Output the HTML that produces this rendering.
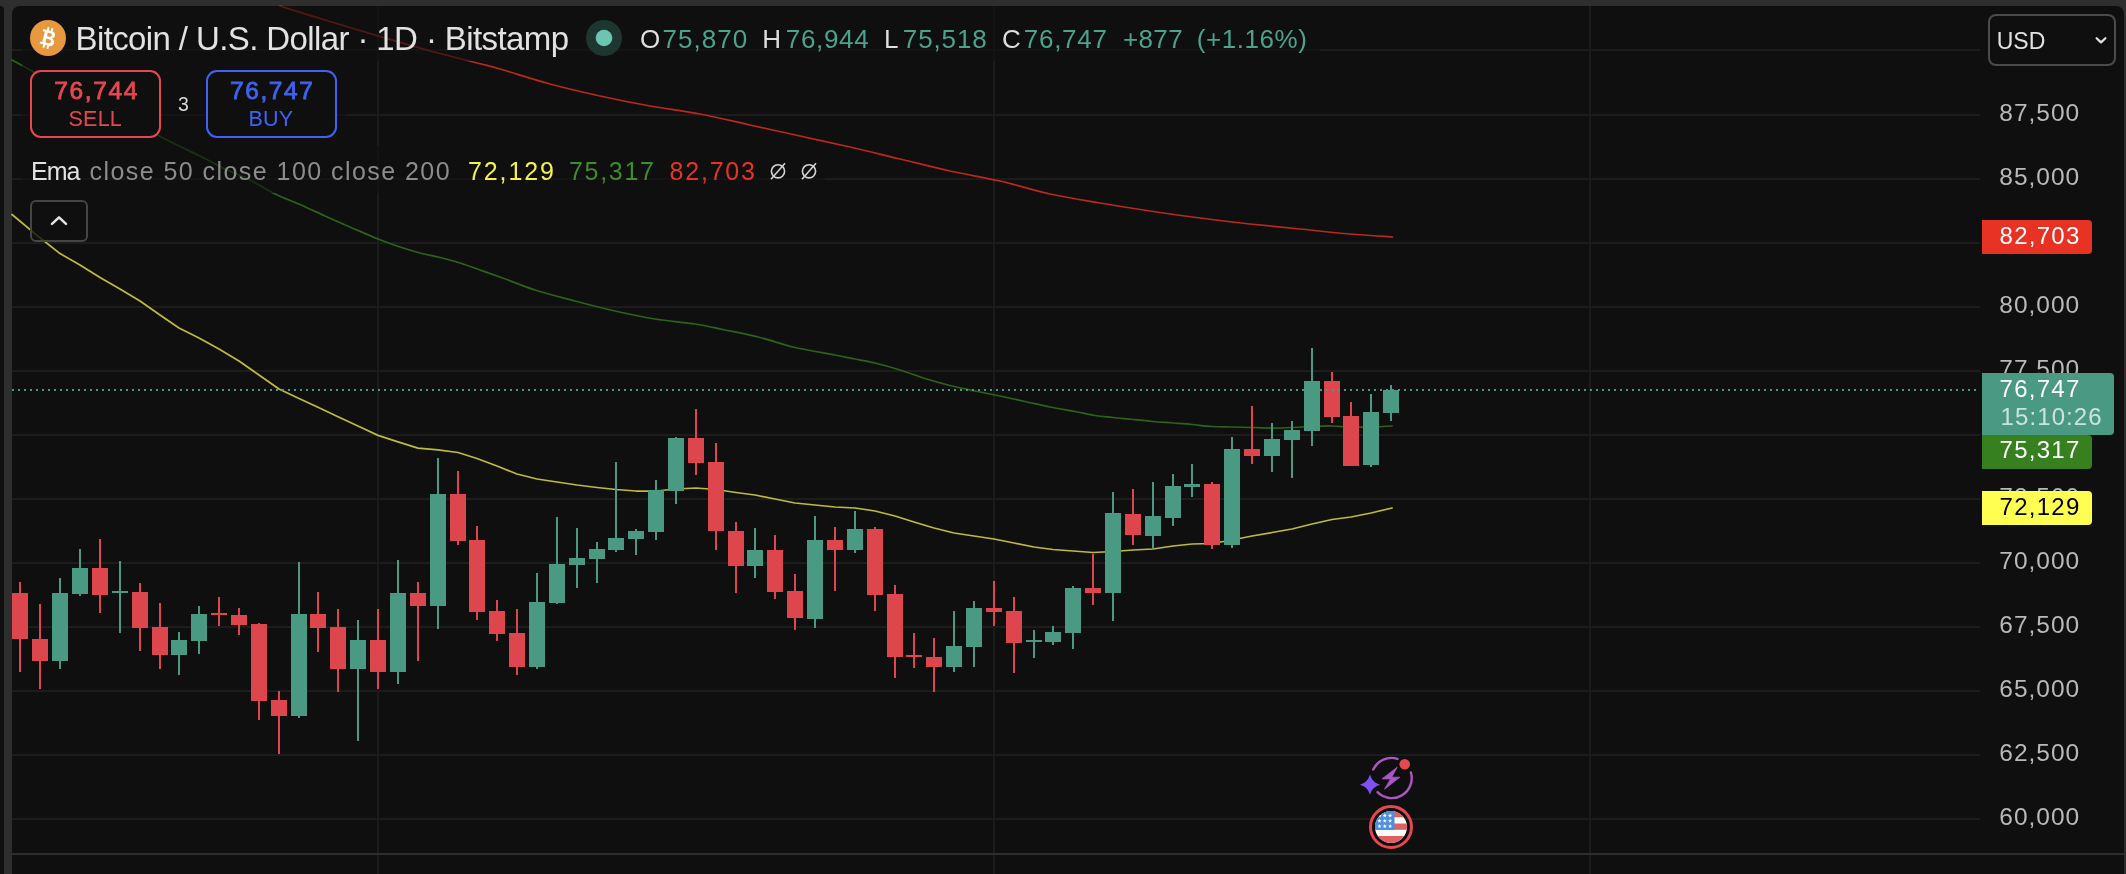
<!DOCTYPE html>
<html><head><meta charset="utf-8"><title>BTCUSD chart</title>
<style>
html,body{margin:0;padding:0;background:#0f0f0f;width:2126px;height:874px;overflow:hidden}
svg{display:block;position:absolute;left:0;top:0;will-change:transform}
text{font-family:"Liberation Sans",sans-serif;white-space:pre}
</style></head><body>
<svg width="2126" height="874" viewBox="0 0 2126 874" font-family="'Liberation Sans', sans-serif">
<rect width="2126" height="874" fill="#2e2e2e"/>
<path d="M0 6 H0 a4 4 0 0 1 4 4 V874 H0 Z" fill="#0f0f0f"/>
<path d="M12 874 V14 a8 8 0 0 1 8 -8 H2116 a8 8 0 0 1 8 8 V874 Z" fill="#0f0f0f"/>
<g fill="#1c1c1c" shape-rendering="crispEdges">
<rect x="12" y="818" width="1968" height="2"/>
<rect x="12" y="754" width="1968" height="2"/>
<rect x="12" y="690" width="1968" height="2"/>
<rect x="12" y="626" width="1968" height="2"/>
<rect x="12" y="562" width="1968" height="2"/>
<rect x="12" y="498" width="1968" height="2"/>
<rect x="12" y="434" width="1968" height="2"/>
<rect x="12" y="370" width="1968" height="2"/>
<rect x="12" y="306" width="1968" height="2"/>
<rect x="12" y="242" width="1968" height="2"/>
<rect x="12" y="178" width="1968" height="2"/>
<rect x="12" y="114" width="1968" height="2"/>
<rect x="12" y="49" width="1968" height="2"/>
<rect x="377" y="6" width="2" height="868" fill="#1b1b1b"/>
<rect x="993" y="6" width="2" height="868" fill="#1b1b1b"/>
<rect x="1589" y="6" width="2" height="868" fill="#1b1b1b"/>
</g>
<rect x="12" y="853" width="2112" height="2" fill="#2e2e2e" shape-rendering="crispEdges"/>
<g fill="none" stroke-width="1.75" stroke-linejoin="round" stroke-linecap="round">
<path stroke="#bb281d" d="M280 6 C287.5 8.3 309.2 15.2 325 20 C340.8 24.8 358.3 30.1 375 35 C391.7 39.9 408.3 44.9 425 49.5 C441.7 54.1 462.5 59.2 475 62.5 C487.5 65.8 487.5 65.4 500 69 C512.5 72.6 533.3 79.5 550 84 C566.7 88.5 583.3 92.3 600 96 C616.7 99.7 633.3 103.0 650 106 C666.7 109.0 683.3 110.8 700 114 C716.7 117.2 733.3 121.3 750 125 C766.7 128.7 783.3 132.3 800 136 C816.7 139.7 833.3 143.2 850 147 C866.7 150.8 883.3 155.0 900 159 C916.7 163.0 933.3 167.3 950 171 C966.7 174.7 983.3 177.2 1000 181 C1016.7 184.8 1033.3 190.3 1050 194 C1066.7 197.7 1083.3 200.2 1100 203 C1116.7 205.8 1133.3 208.5 1150 211 C1166.7 213.5 1183.3 215.8 1200 218 C1216.7 220.2 1233.3 222.2 1250 224 C1266.7 225.8 1283.3 227.3 1300 229 C1316.7 230.7 1334.6 232.7 1350 234 C1365.4 235.3 1385.4 236.5 1392.5 237"/>
<path stroke="#2c6318" d="M12 60 C15.3 61.8 24.0 66.8 32 71 C40.0 75.2 48.7 79.3 60 85 C71.3 90.7 83.2 96.3 100 105 C116.8 113.7 144.3 128.5 161 137 C177.7 145.5 189.3 150.7 200 156 C210.7 161.3 216.7 165.0 225 169 C233.3 173.0 241.7 175.8 250 180 C258.3 184.2 266.7 189.9 275 194 C283.3 198.1 291.7 200.8 300 204.5 C308.3 208.2 316.7 212.2 325 216 C333.3 219.8 341.2 223.2 350 227 C358.8 230.8 369.7 235.7 378 239 C386.3 242.3 393.0 244.7 400 247 C407.0 249.3 413.3 251.2 420 253 C426.7 254.8 433.3 255.8 440 257.5 C446.7 259.2 453.3 260.9 460 263 C466.7 265.1 473.3 267.7 480 270 C486.7 272.3 490.8 273.7 500 277 C509.2 280.3 522.5 286.0 535 290 C547.5 294.0 561.7 297.5 575 301 C588.3 304.5 601.7 308.0 615 311 C628.3 314.0 641.7 316.8 655 319 C668.3 321.2 683.3 322.2 695 324 C706.7 325.8 714.2 327.8 725 330 C735.8 332.2 748.3 334.6 760 337.5 C771.7 340.4 782.5 344.6 795 347.5 C807.5 350.4 825.0 353.1 835 355 C845.0 356.9 848.3 357.7 855 359 C861.7 360.3 867.5 361.2 875 363 C882.5 364.8 891.7 367.4 900 370 C908.3 372.6 916.7 375.9 925 378.5 C933.3 381.1 941.7 383.4 950 385.5 C958.3 387.6 966.7 389.2 975 391 C983.3 392.8 991.7 394.2 1000 396 C1008.3 397.8 1016.7 399.7 1025 401.5 C1033.3 403.3 1041.7 405.3 1050 407 C1058.3 408.7 1067.5 410.1 1075 411.5 C1082.5 412.9 1088.7 414.5 1095 415.5 C1101.3 416.5 1106.7 416.8 1113 417.5 C1119.3 418.2 1126.3 418.8 1133 419.5 C1139.7 420.2 1146.3 420.9 1153 421.5 C1159.7 422.1 1166.5 422.5 1173 423 C1179.5 423.5 1185.5 423.9 1192 424.5 C1198.5 425.1 1205.3 426.1 1212 426.5 C1218.7 426.9 1225.3 426.8 1232 427 C1238.7 427.2 1245.3 427.3 1252 427.5 C1258.7 427.7 1265.3 428.0 1272 428 C1278.7 428.0 1285.3 427.8 1292 427.5 C1298.7 427.2 1305.3 426.8 1312 426.5 C1318.7 426.2 1325.5 425.9 1332 426 C1338.5 426.1 1344.5 426.8 1351 427 C1357.5 427.2 1364.2 427.2 1371 427 C1377.8 426.8 1388.5 426.2 1392 426"/>
<polyline stroke="#bebc37" points="12,214.5 40,237.8 60,253.6 80,265 100,277.5 120,289 140,301 160,315 179,328 199,338 219,349 239,361 259,375 279,389 299,398.5 318,407.3 338,416.7 358,426 378,435.4 398,441.8 418,448.2 438,449.8 458,452.5 477,458.5 497,466 517,474 537,479 557,482 577,485 597,487.5 616,489.5 636,491 656,491 676,489 696,488 716,489.5 736,492.5 755,495 775,499 795,503 815,505 835,507 855,508 875,511 895,516 914,522 934,528 954,533 974,536 994,539 1014,543 1034,547 1053,549.5 1073,551 1093,552.5 1113,551.5 1133,550 1153,549 1173,546 1192,544 1212,543.5 1232,540 1252,536 1272,532.5 1292,529 1312,524 1332,519.5 1351,517 1371,513 1392,508"/>
</g>
<g shape-rendering="crispEdges">
<rect x="19" y="582" width="2" height="90" fill="#de464d"/>
<rect x="12" y="593" width="16" height="46" fill="#de464d"/>
<rect x="39" y="604" width="2" height="85" fill="#de464d"/>
<rect x="32" y="639" width="16" height="22" fill="#de464d"/>
<rect x="59" y="578" width="2" height="91" fill="#4a9a83"/>
<rect x="52" y="593" width="16" height="68" fill="#4a9a83"/>
<rect x="79" y="549" width="2" height="47" fill="#4a9a83"/>
<rect x="72" y="568" width="16" height="26" fill="#4a9a83"/>
<rect x="99" y="539" width="2" height="74" fill="#de464d"/>
<rect x="92" y="568" width="16" height="27" fill="#de464d"/>
<rect x="119" y="561" width="2" height="72" fill="#4a9a83"/>
<rect x="112" y="591" width="16" height="2" fill="#4a9a83"/>
<rect x="139" y="583" width="2" height="68" fill="#de464d"/>
<rect x="132" y="592" width="16" height="36" fill="#de464d"/>
<rect x="159" y="603" width="2" height="66" fill="#de464d"/>
<rect x="152" y="627" width="16" height="28" fill="#de464d"/>
<rect x="178" y="632" width="2" height="43" fill="#4a9a83"/>
<rect x="171" y="640" width="16" height="15" fill="#4a9a83"/>
<rect x="198" y="606" width="2" height="48" fill="#4a9a83"/>
<rect x="191" y="614" width="16" height="27" fill="#4a9a83"/>
<rect x="218" y="597" width="2" height="29" fill="#de464d"/>
<rect x="211" y="613" width="16" height="2" fill="#de464d"/>
<rect x="238" y="608" width="2" height="27" fill="#de464d"/>
<rect x="231" y="615" width="16" height="10" fill="#de464d"/>
<rect x="258" y="623" width="2" height="97" fill="#de464d"/>
<rect x="251" y="624" width="16" height="77" fill="#de464d"/>
<rect x="278" y="691" width="2" height="63" fill="#de464d"/>
<rect x="271" y="700" width="16" height="16" fill="#de464d"/>
<rect x="298" y="562" width="2" height="156" fill="#4a9a83"/>
<rect x="291" y="614" width="16" height="102" fill="#4a9a83"/>
<rect x="317" y="592" width="2" height="60" fill="#de464d"/>
<rect x="310" y="614" width="16" height="14" fill="#de464d"/>
<rect x="337" y="609" width="2" height="83" fill="#de464d"/>
<rect x="330" y="627" width="16" height="42" fill="#de464d"/>
<rect x="357" y="620" width="2" height="121" fill="#4a9a83"/>
<rect x="350" y="640" width="16" height="29" fill="#4a9a83"/>
<rect x="377" y="609" width="2" height="80" fill="#de464d"/>
<rect x="370" y="640" width="16" height="32" fill="#de464d"/>
<rect x="397" y="560" width="2" height="124" fill="#4a9a83"/>
<rect x="390" y="593" width="16" height="79" fill="#4a9a83"/>
<rect x="417" y="582" width="2" height="79" fill="#de464d"/>
<rect x="410" y="593" width="16" height="13" fill="#de464d"/>
<rect x="437" y="458" width="2" height="171" fill="#4a9a83"/>
<rect x="430" y="494" width="16" height="112" fill="#4a9a83"/>
<rect x="457" y="471" width="2" height="74" fill="#de464d"/>
<rect x="450" y="494" width="16" height="47" fill="#de464d"/>
<rect x="476" y="526" width="2" height="94" fill="#de464d"/>
<rect x="469" y="540" width="16" height="72" fill="#de464d"/>
<rect x="496" y="600" width="2" height="41" fill="#de464d"/>
<rect x="489" y="611" width="16" height="23" fill="#de464d"/>
<rect x="516" y="609" width="2" height="66" fill="#de464d"/>
<rect x="509" y="633" width="16" height="34" fill="#de464d"/>
<rect x="536" y="573" width="2" height="96" fill="#4a9a83"/>
<rect x="529" y="602" width="16" height="65" fill="#4a9a83"/>
<rect x="556" y="517" width="2" height="87" fill="#4a9a83"/>
<rect x="549" y="564" width="16" height="39" fill="#4a9a83"/>
<rect x="576" y="528" width="2" height="60" fill="#4a9a83"/>
<rect x="569" y="558" width="16" height="7" fill="#4a9a83"/>
<rect x="596" y="542" width="2" height="41" fill="#4a9a83"/>
<rect x="589" y="549" width="16" height="10" fill="#4a9a83"/>
<rect x="615" y="462" width="2" height="90" fill="#4a9a83"/>
<rect x="608" y="538" width="16" height="12" fill="#4a9a83"/>
<rect x="635" y="529" width="2" height="26" fill="#4a9a83"/>
<rect x="628" y="531" width="16" height="8" fill="#4a9a83"/>
<rect x="655" y="480" width="2" height="60" fill="#4a9a83"/>
<rect x="648" y="490" width="16" height="42" fill="#4a9a83"/>
<rect x="675" y="437" width="2" height="67" fill="#4a9a83"/>
<rect x="668" y="438" width="16" height="53" fill="#4a9a83"/>
<rect x="695" y="409" width="2" height="66" fill="#de464d"/>
<rect x="688" y="438" width="16" height="25" fill="#de464d"/>
<rect x="715" y="443" width="2" height="107" fill="#de464d"/>
<rect x="708" y="462" width="16" height="69" fill="#de464d"/>
<rect x="735" y="522" width="2" height="71" fill="#de464d"/>
<rect x="728" y="531" width="16" height="35" fill="#de464d"/>
<rect x="754" y="528" width="2" height="50" fill="#4a9a83"/>
<rect x="747" y="550" width="16" height="16" fill="#4a9a83"/>
<rect x="774" y="535" width="2" height="64" fill="#de464d"/>
<rect x="767" y="550" width="16" height="42" fill="#de464d"/>
<rect x="794" y="574" width="2" height="56" fill="#de464d"/>
<rect x="787" y="591" width="16" height="27" fill="#de464d"/>
<rect x="814" y="516" width="2" height="112" fill="#4a9a83"/>
<rect x="807" y="540" width="16" height="79" fill="#4a9a83"/>
<rect x="834" y="527" width="2" height="64" fill="#de464d"/>
<rect x="827" y="540" width="16" height="10" fill="#de464d"/>
<rect x="854" y="511" width="2" height="42" fill="#4a9a83"/>
<rect x="847" y="529" width="16" height="21" fill="#4a9a83"/>
<rect x="874" y="527" width="2" height="84" fill="#de464d"/>
<rect x="867" y="529" width="16" height="66" fill="#de464d"/>
<rect x="894" y="585" width="2" height="93" fill="#de464d"/>
<rect x="887" y="594" width="16" height="63" fill="#de464d"/>
<rect x="913" y="633" width="2" height="35" fill="#de464d"/>
<rect x="906" y="655" width="16" height="2" fill="#de464d"/>
<rect x="933" y="638" width="2" height="54" fill="#de464d"/>
<rect x="926" y="657" width="16" height="10" fill="#de464d"/>
<rect x="953" y="611" width="2" height="61" fill="#4a9a83"/>
<rect x="946" y="646" width="16" height="21" fill="#4a9a83"/>
<rect x="973" y="601" width="2" height="66" fill="#4a9a83"/>
<rect x="966" y="608" width="16" height="39" fill="#4a9a83"/>
<rect x="993" y="581" width="2" height="45" fill="#de464d"/>
<rect x="986" y="608" width="16" height="4" fill="#de464d"/>
<rect x="1013" y="597" width="2" height="76" fill="#de464d"/>
<rect x="1006" y="611" width="16" height="32" fill="#de464d"/>
<rect x="1033" y="630" width="2" height="28" fill="#4a9a83"/>
<rect x="1026" y="640" width="16" height="2" fill="#4a9a83"/>
<rect x="1052" y="626" width="2" height="19" fill="#4a9a83"/>
<rect x="1045" y="632" width="16" height="10" fill="#4a9a83"/>
<rect x="1072" y="586" width="2" height="63" fill="#4a9a83"/>
<rect x="1065" y="588" width="16" height="45" fill="#4a9a83"/>
<rect x="1092" y="554" width="2" height="51" fill="#de464d"/>
<rect x="1085" y="588" width="16" height="5" fill="#de464d"/>
<rect x="1112" y="492" width="2" height="129" fill="#4a9a83"/>
<rect x="1105" y="513" width="16" height="80" fill="#4a9a83"/>
<rect x="1132" y="489" width="2" height="56" fill="#de464d"/>
<rect x="1125" y="514" width="16" height="21" fill="#de464d"/>
<rect x="1152" y="482" width="2" height="68" fill="#4a9a83"/>
<rect x="1145" y="516" width="16" height="20" fill="#4a9a83"/>
<rect x="1172" y="474" width="2" height="52" fill="#4a9a83"/>
<rect x="1165" y="486" width="16" height="32" fill="#4a9a83"/>
<rect x="1191" y="464" width="2" height="33" fill="#4a9a83"/>
<rect x="1184" y="484" width="16" height="3" fill="#4a9a83"/>
<rect x="1211" y="482" width="2" height="67" fill="#de464d"/>
<rect x="1204" y="484" width="16" height="61" fill="#de464d"/>
<rect x="1231" y="437" width="2" height="111" fill="#4a9a83"/>
<rect x="1224" y="449" width="16" height="96" fill="#4a9a83"/>
<rect x="1251" y="406" width="2" height="58" fill="#de464d"/>
<rect x="1244" y="449" width="16" height="7" fill="#de464d"/>
<rect x="1271" y="423" width="2" height="49" fill="#4a9a83"/>
<rect x="1264" y="439" width="16" height="17" fill="#4a9a83"/>
<rect x="1291" y="421" width="2" height="57" fill="#4a9a83"/>
<rect x="1284" y="430" width="16" height="10" fill="#4a9a83"/>
<rect x="1311" y="348" width="2" height="98" fill="#4a9a83"/>
<rect x="1304" y="381" width="16" height="50" fill="#4a9a83"/>
<rect x="1331" y="372" width="2" height="51" fill="#de464d"/>
<rect x="1324" y="381" width="16" height="36" fill="#de464d"/>
<rect x="1350" y="402" width="2" height="64" fill="#de464d"/>
<rect x="1343" y="416" width="16" height="50" fill="#de464d"/>
<rect x="1370" y="394" width="2" height="73" fill="#4a9a83"/>
<rect x="1363" y="412" width="16" height="53" fill="#4a9a83"/>
<rect x="1390" y="385" width="2" height="36" fill="#4a9a83"/>
<rect x="1383" y="390" width="16" height="23" fill="#4a9a83"/>
</g>
<line x1="12" y1="390" x2="1980" y2="390" stroke="#4a9a83" stroke-width="2" stroke-dasharray="2 4" shape-rendering="crispEdges"/>
<rect x="22" y="6" width="1298" height="55" fill="#0f0f0f" fill-opacity="0.6"/>
<rect x="22" y="61" width="324" height="85" fill="#0f0f0f" fill-opacity="0.6"/>
<rect x="22" y="146" width="803" height="47" fill="#0f0f0f" fill-opacity="0.6"/>
<text x="1999.30" y="120.80" font-size="24.5" fill="#b9b9b9" letter-spacing="0.980">87,500</text>
<text x="1999.30" y="184.80" font-size="24.5" fill="#b9b9b9" letter-spacing="0.980">85,000</text>
<text x="1999.30" y="312.80" font-size="24.5" fill="#b9b9b9" letter-spacing="0.980">80,000</text>
<text x="1999.30" y="376.80" font-size="24.5" fill="#b9b9b9" letter-spacing="0.980">77,500</text>
<text x="1999.30" y="504.80" font-size="24.5" fill="#b9b9b9" letter-spacing="0.980">72,500</text>
<text x="1999.30" y="568.80" font-size="24.5" fill="#b9b9b9" letter-spacing="0.980">70,000</text>
<text x="1999.30" y="632.80" font-size="24.5" fill="#b9b9b9" letter-spacing="0.980">67,500</text>
<text x="1999.30" y="696.80" font-size="24.5" fill="#b9b9b9" letter-spacing="0.980">65,000</text>
<text x="1999.30" y="760.80" font-size="24.5" fill="#b9b9b9" letter-spacing="0.980">62,500</text>
<text x="1999.30" y="824.80" font-size="24.5" fill="#b9b9b9" letter-spacing="0.980">60,000</text>
<path d="M1982 220 H2088 a4 4 0 0 1 4 4 V250 a4 4 0 0 1 -4 4 H1982 Z" fill="#e83324"/>
<text x="1999.50" y="244.20" font-size="24" fill="#ffffff" letter-spacing="1.280">82,703</text>
<path d="M1982 373 H2110 a4 4 0 0 1 4 4 V431 a4 4 0 0 1 -4 4 H1982 Z" fill="#4a9a83"/>
<text x="1999.50" y="397.20" font-size="24" fill="#ffffff" letter-spacing="1.280">76,747</text>
<text x="2000.60" y="425.20" font-size="24" fill="#ffffff" fill-opacity="0.72" letter-spacing="1.086">15:10:26</text>
<path d="M1982 435 H2088 a4 4 0 0 1 4 4 V465 a4 4 0 0 1 -4 4 H1982 Z" fill="#37801f"/>
<text x="1999.50" y="458.20" font-size="24" fill="#ffffff" letter-spacing="1.280">75,317</text>
<path d="M1982 491 H2088 a4 4 0 0 1 4 4 V521 a4 4 0 0 1 -4 4 H1982 Z" fill="#ffff52"/>
<text x="1999.50" y="515.20" font-size="24" fill="#000000" letter-spacing="1.280">72,129</text>
<rect x="1989" y="15" width="126" height="50" rx="7" fill="#0f0f0f" stroke="#4b4b4b" stroke-width="2"/>
<text x="1996.70" y="48.90" font-size="23" fill="#e2e2e2" letter-spacing="0.050">USD</text>
<path d="M2096.6 38.2 L2101 42.4 L2105.4 38.2" fill="none" stroke="#e2e2e2" stroke-width="2.2" stroke-linecap="round" stroke-linejoin="round"/>
<circle cx="48" cy="38" r="18" fill="#e8983e"/>
<g transform="translate(48.2 38) rotate(14)" fill="#ffffff">
<path fill-rule="evenodd" d="M-7 -7.5 H1.5 C5 -7.5 6 -5.5 6 -3.8 C6 -2 5 -0.8 3.6 -0.3 C5.6 0.2 6.8 1.6 6.8 3.5 C6.8 6 5 7.5 1.8 7.5 H-7 V5.3 H-4.8 V-5.3 H-7 Z M-1.6 -5 H0.8 C2.2 -5 2.8 -4.3 2.8 -3.3 C2.8 -2.3 2.2 -1.5 0.8 -1.5 H-1.6 Z M-1.6 1 H1.2 C2.8 1 3.5 1.8 3.5 3 C3.5 4.2 2.8 5 1.2 5 H-1.6 Z"/>
<rect x="-3.2" y="-10.6" width="1.9" height="3.4"/><rect x="0.8" y="-10.6" width="1.9" height="3.4"/><rect x="-3.2" y="7.2" width="1.9" height="3.4"/><rect x="0.8" y="7.2" width="1.9" height="3.4"/>
</g>
<text x="75.50" y="49.50" font-size="33" fill="#e2e2e2" letter-spacing="-0.606">Bitcoin / U.S. Dollar · 1D · Bitstamp</text>
<circle cx="604" cy="38" r="18" fill="#1d3630"/>
<circle cx="604" cy="38" r="8.3" fill="#6cc5b1"/>
<text x="640.00" y="47.60" font-size="26" fill="#dedede" letter-spacing="0.000">O</text>
<text x="662.50" y="47.60" font-size="26" fill="#4ca38d" letter-spacing="1.040">75,870</text>
<text x="762.30" y="47.60" font-size="26" fill="#dedede" letter-spacing="0.000">H</text>
<text x="785.80" y="47.60" font-size="26" fill="#4ca38d" letter-spacing="0.660">76,944</text>
<text x="884.00" y="47.60" font-size="26" fill="#dedede" letter-spacing="0.000">L</text>
<text x="902.80" y="47.60" font-size="26" fill="#4ca38d" letter-spacing="0.880">75,518</text>
<text x="1002.00" y="47.60" font-size="26" fill="#dedede" letter-spacing="0.000">C</text>
<text x="1023.70" y="47.60" font-size="26" fill="#4ca38d" letter-spacing="0.760">76,747</text>
<text x="1122.90" y="47.60" font-size="26" fill="#4ca38d" letter-spacing="0.400">+877</text>
<text x="1196.80" y="47.60" font-size="26" fill="#4ca38d" letter-spacing="0.557">(+1.16%)</text>
<rect x="31" y="71" width="129" height="66" rx="10" fill="#0f0f0f" stroke="#e5484f" stroke-width="2"/>
<rect x="207" y="71" width="129" height="66" rx="10" fill="#0f0f0f" stroke="#3f63f2" stroke-width="2"/>
<text x="54.20" y="99.20" font-size="24.5" fill="#e5484f" letter-spacing="1.640" stroke="#e5484f" stroke-width="0.8">76,744</text>
<text x="68.50" y="125.80" font-size="21.5" fill="#e5484f" letter-spacing="0.233">SELL</text>
<text x="178.00" y="110.60" font-size="19.5" fill="#d8d8d8" letter-spacing="0.000">3</text>
<text x="230.00" y="99.20" font-size="24.5" fill="#3f63f2" letter-spacing="1.580" stroke="#3f63f2" stroke-width="0.8">76,747</text>
<text x="248.60" y="125.80" font-size="21.5" fill="#3f63f2" letter-spacing="0.100">BUY</text>
<text x="31.00" y="179.50" font-size="25" fill="#e2e2e2" letter-spacing="-1.000">Ema</text>
<text x="89.50" y="179.50" font-size="25" fill="#8c8c8c" letter-spacing="1.444">close 50 close 100 close 200</text>
<text x="468.00" y="179.50" font-size="25" fill="#f5f24e" letter-spacing="1.900">72,129</text>
<text x="569.00" y="179.50" font-size="25" fill="#3f8c2a" letter-spacing="1.700">75,317</text>
<text x="669.50" y="179.50" font-size="25" fill="#e83324" letter-spacing="1.800">82,703</text>
<circle cx="778" cy="171.3" r="6.6" fill="none" stroke="#d4d4d4" stroke-width="1.6"/>
<line x1="771" y1="179.3" x2="785" y2="163.3" stroke="#d4d4d4" stroke-width="1.6"/>
<circle cx="809" cy="171.3" r="6.6" fill="none" stroke="#d4d4d4" stroke-width="1.6"/>
<line x1="802" y1="179.3" x2="816" y2="163.3" stroke="#d4d4d4" stroke-width="1.6"/>
<rect x="31" y="201" width="56" height="40" rx="5" fill="#0f0f0f" fill-opacity="0.8" stroke="#454545" stroke-width="2"/>
<path d="M52 223.9 L59 217.4 L66 223.9" fill="none" stroke="#e2e2e2" stroke-width="2.6" stroke-linecap="round" stroke-linejoin="round"/>
<g fill="none" stroke="#ab56c6" stroke-width="2.4" stroke-linecap="round">
<path d="M1373.2 769.5 A20 20 0 0 1 1397.5 758.9"/>
<path d="M1410.9 772.5 A20 20 0 0 1 1377.5 792.2"/>
</g>
<path d="M1397.2 767.2 L1382 778.9 H1390.4 L1384.6 789.2 L1399.8 777.2 H1391.8 Z" fill="#ab56c6" stroke="#ab56c6" stroke-width="0.8" stroke-linejoin="round"/>
<circle cx="1404.7" cy="764.2" r="5.3" fill="#e5484f"/>
<path d="M1370 774.6 C1372 780.6 1374.2 782.8 1380.2 784.8 C1374.2 786.8 1372 789 1370 795 C1368 789 1365.8 786.8 1359.8 784.8 C1365.8 782.8 1368 780.6 1370 774.6 Z" fill="#7c52f5"/>
<circle cx="1391" cy="827" r="20.5" fill="none" stroke="#e5484f" stroke-width="3"/>
<clipPath id="fc"><circle cx="1391" cy="827" r="16"/></clipPath>
<g clip-path="url(#fc)" shape-rendering="geometricPrecision">
<rect x="1375" y="811" width="32" height="32" fill="#ffffff"/>
<rect x="1375" y="811" width="32" height="6.3" fill="#e0605f"/>
<rect x="1375" y="823.5" width="32" height="6.3" fill="#e0605f"/>
<rect x="1375" y="836" width="32" height="8" fill="#e0605f"/>
<rect x="1375" y="811" width="19.5" height="19" fill="#4a8fe2"/>
<polygon points="1379.50,813.30 1380.06,814.83 1381.69,814.89 1380.40,815.89 1380.85,817.46 1379.50,816.55 1378.15,817.46 1378.60,815.89 1377.31,814.89 1378.94,814.83" fill="#ffffff"/>
<polygon points="1384.80,813.30 1385.36,814.83 1386.99,814.89 1385.70,815.89 1386.15,817.46 1384.80,816.55 1383.45,817.46 1383.90,815.89 1382.61,814.89 1384.24,814.83" fill="#ffffff"/>
<polygon points="1390.10,813.30 1390.66,814.83 1392.29,814.89 1391.00,815.89 1391.45,817.46 1390.10,816.55 1388.75,817.46 1389.20,815.89 1387.91,814.89 1389.54,814.83" fill="#ffffff"/>
<polygon points="1379.50,818.60 1380.06,820.13 1381.69,820.19 1380.40,821.19 1380.85,822.76 1379.50,821.85 1378.15,822.76 1378.60,821.19 1377.31,820.19 1378.94,820.13" fill="#ffffff"/>
<polygon points="1384.80,818.60 1385.36,820.13 1386.99,820.19 1385.70,821.19 1386.15,822.76 1384.80,821.85 1383.45,822.76 1383.90,821.19 1382.61,820.19 1384.24,820.13" fill="#ffffff"/>
<polygon points="1390.10,818.60 1390.66,820.13 1392.29,820.19 1391.00,821.19 1391.45,822.76 1390.10,821.85 1388.75,822.76 1389.20,821.19 1387.91,820.19 1389.54,820.13" fill="#ffffff"/>
<polygon points="1379.50,823.90 1380.06,825.43 1381.69,825.49 1380.40,826.49 1380.85,828.06 1379.50,827.15 1378.15,828.06 1378.60,826.49 1377.31,825.49 1378.94,825.43" fill="#ffffff"/>
<polygon points="1384.80,823.90 1385.36,825.43 1386.99,825.49 1385.70,826.49 1386.15,828.06 1384.80,827.15 1383.45,828.06 1383.90,826.49 1382.61,825.49 1384.24,825.43" fill="#ffffff"/>
<polygon points="1390.10,823.90 1390.66,825.43 1392.29,825.49 1391.00,826.49 1391.45,828.06 1390.10,827.15 1388.75,828.06 1389.20,826.49 1387.91,825.49 1389.54,825.43" fill="#ffffff"/>
</g>
</svg>
</body></html>
